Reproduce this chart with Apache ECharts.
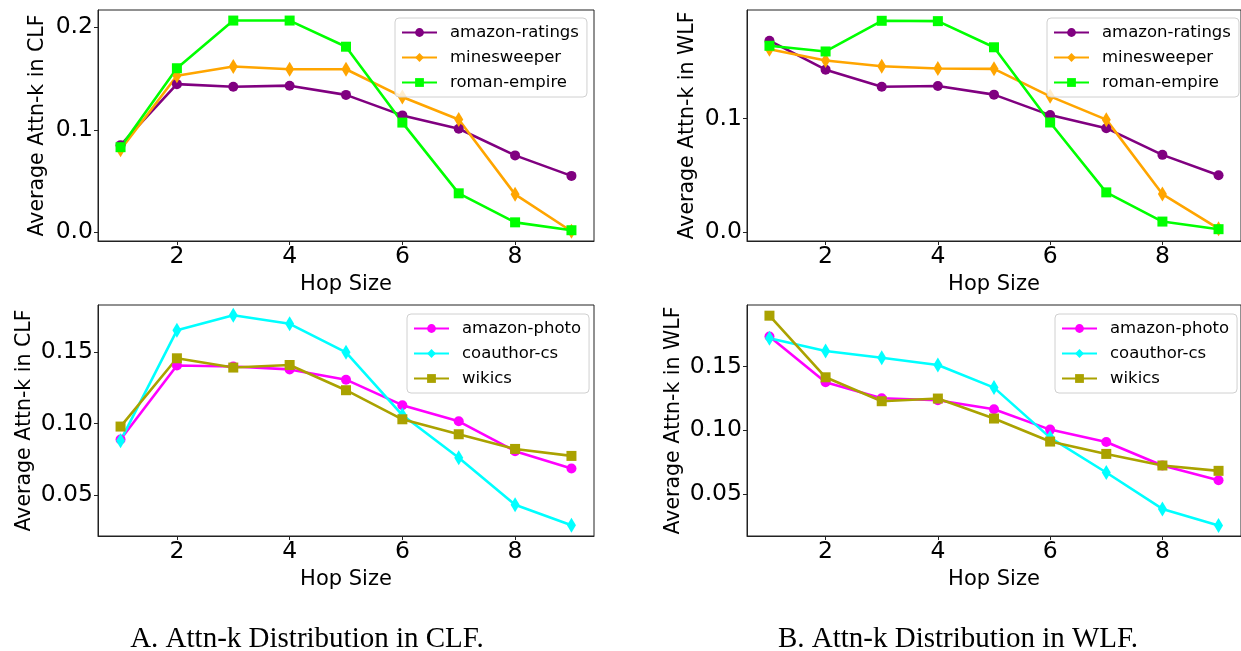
<!DOCTYPE html>
<html>
<head>
<meta charset="utf-8">
<script src="https://cdn.jsdelivr.net/npm/echarts@6/dist/echarts.min.js"></script>
<style>
html,body{margin:0;padding:0;background:#fff;}
#c{width:1241px;height:651px;}
</style>
</head>
<body>
<div id="c"></div>
<script>
const hops = [1, 2, 3, 4, 5, 6, 7, 8, 9];
const xTicks = [2, 4, 6, 8];

// Top row datasets
const clf_amazonRatings = [0.085, 0.1445, 0.142, 0.143, 0.134, 0.114, 0.101, 0.075, 0.055];
const clf_minesweeper   = [0.0805, 0.1526, 0.1617, 0.159, 0.159, 0.132, 0.110, 0.037, 0.001];
const clf_romanEmpire   = [0.083, 0.160, 0.2065, 0.2065, 0.181, 0.107, 0.038, 0.0097, 0.002];

const wlf_amazonRatings = [0.1685, 0.143, 0.128, 0.1286, 0.121, 0.103, 0.0915, 0.068, 0.050];
const wlf_minesweeper   = [0.161, 0.151, 0.146, 0.144, 0.1437, 0.1195, 0.099, 0.0335, 0.003];
const wlf_romanEmpire   = [0.164, 0.159, 0.186, 0.1857, 0.1627, 0.0965, 0.035, 0.0093, 0.0026];

// Bottom row datasets
const clf_amazonPhoto = [0.0888, 0.1407, 0.140, 0.138, 0.1308, 0.1129, 0.1016, 0.0806, 0.0685];
const clf_coauthorCs  = [0.088, 0.1654, 0.176, 0.170, 0.150, 0.106, 0.076, 0.043, 0.0287];
const clf_wikics      = [0.0979, 0.1458, 0.1393, 0.1411, 0.1234, 0.103, 0.0925, 0.0822, 0.0773];

const wlf_amazonPhoto = [0.1736, 0.1377, 0.1251, 0.1236, 0.1165, 0.1005, 0.0908, 0.0723, 0.0607];
const wlf_coauthorCs  = [0.1723, 0.1623, 0.157, 0.1513, 0.1335, 0.0942, 0.0668, 0.0382, 0.0251];
const wlf_wikics      = [0.190, 0.1416, 0.1228, 0.1249, 0.1092, 0.0911, 0.0814, 0.0723, 0.0681];

const yTicksTopL = [0, 0.1, 0.2];
const yTicksTopR = [0, 0.1];
const yTicksBot  = [0.05, 0.10, 0.15];

const captions = ['A. Attn-k Distribution in CLF.', 'B. Attn-k Distribution in WLF.'];

const FONT = 'DejaVu Sans';
const grids = [
  {left: 98, top: 10, width: 496, height: 231},
  {left: 747, top: 10, width: 497, height: 231},
  {left: 98, top: 305, width: 496, height: 231},
  {left: 747, top: 305, width: 497, height: 231}
];
const yRanges = [[-0.0085, 0.2168], [-0.0078, 0.1955], [0.0211, 0.1832], [0.0169, 0.1984]];
const yTicks = [yTicksTopL, yTicksTopR, yTicksBot, yTicksBot];
const yNames = ['Average Attn-k in CLF', 'Average Attn-k in WLF', 'Average Attn-k in CLF', 'Average Attn-k in WLF'];
const yDigits = [1, 1, 2, 2];
const yGaps = [50, 49, 63, 63];

const seriesDefs = [
  [['amazon-ratings', clf_amazonRatings, '#800080', 'circle'], ['minesweeper', clf_minesweeper, '#FFA500', 'diamond'], ['roman-empire', clf_romanEmpire, '#00FF00', 'rect']],
  [['amazon-ratings', wlf_amazonRatings, '#800080', 'circle'], ['minesweeper', wlf_minesweeper, '#FFA500', 'diamond'], ['roman-empire', wlf_romanEmpire, '#00FF00', 'rect']],
  [['amazon-photo', clf_amazonPhoto, '#FF00FF', 'circle'], ['coauthor-cs', clf_coauthorCs, '#00FFFF', 'diamond'], ['wikics', clf_wikics, '#AAA200', 'rect']],
  [['amazon-photo', wlf_amazonPhoto, '#FF00FF', 'circle'], ['coauthor-cs', wlf_coauthorCs, '#00FFFF', 'diamond'], ['wikics', wlf_wikics, '#AAA200', 'rect']]
];
const legendPos = [
  {left: 395, top: 18}, {left: 1047, top: 18}, {left: 407, top: 314}, {left: 1055, top: 314}
];

const option = {
  animation: false,
  backgroundColor: '#fff',
  title: [
    {text: captions[0], left: 302, top: 620, textAlign: 'center', textStyle: {fontFamily: 'Liberation Serif', fontWeight: 'normal', fontSize: 29, color: '#000'}},
    {text: captions[1], left: 953, top: 620, textAlign: 'center', textStyle: {fontFamily: 'Liberation Serif', fontWeight: 'normal', fontSize: 29, color: '#000'}}
  ],
  grid: grids.map(g => Object.assign({show: true, borderColor: '#222', borderWidth: 1, backgroundColor: 'transparent'}, g)),
  xAxis: grids.map((g, i) => ({
    type: 'value', gridIndex: i, min: 0.6, max: 9.4,
    name: 'Hop Size', nameLocation: 'middle', nameGap: 33,
    nameTextStyle: {fontFamily: FONT, fontSize: 21, color: '#000'},
    axisLine: {show: true, onZero: false, lineStyle: {color: '#222', width: 1}},
    axisTick: {show: true, inside: false, length: 4, customValues: xTicks, lineStyle: {color: '#222'}},
    axisLabel: {show: true, customValues: xTicks, fontFamily: FONT, fontSize: 23.5, color: '#000', margin: 4},
    splitLine: {show: false}
  })),
  yAxis: grids.map((g, i) => ({
    type: 'value', gridIndex: i, min: yRanges[i][0], max: yRanges[i][1],
    name: yNames[i], nameLocation: 'middle', nameGap: yGaps[i],
    nameTextStyle: {fontFamily: FONT, fontSize: 20.5, color: '#000'},
    axisLine: {show: true, onZero: false, lineStyle: {color: '#222', width: 1}},
    axisTick: {show: true, inside: false, length: 4, customValues: yTicks[i], lineStyle: {color: '#222'}},
    axisLabel: {show: true, customValues: yTicks[i], fontFamily: FONT, fontSize: 23.5, color: '#000', margin: 5,
      formatter: v => Number(v).toFixed(yDigits[i])},
    splitLine: {show: false}
  })),
  legend: seriesDefs.map((defs, i) => ({
    left: legendPos[i].left, top: legendPos[i].top,
    orient: 'vertical',
    data: defs.map(d => d[0]),
    itemWidth: 35, itemHeight: 11, itemGap: 8,
    padding: [6, 8, 6, 6],
    backgroundColor: 'rgba(255,255,255,0.8)',
    borderColor: '#d0d0d0', borderWidth: 1, borderRadius: 4,
    textStyle: {fontFamily: FONT, fontSize: 16.5, color: '#000', padding: [0, 0, 0, 8]}
  })),
  series: []
};

seriesDefs.forEach((defs, gi) => {
  defs.forEach(d => {
    const [name, vals, color, sym] = d;
    option.series.push({
      name: name, type: 'line', xAxisIndex: gi, yAxisIndex: gi,
      data: hops.map((h, k) => [h, vals[k]]),
      symbol: sym,
      symbolSize: sym === 'diamond' ? [9, 15] : 10,
      showAllSymbol: true,
      lineStyle: {color: color, width: 2.6},
      itemStyle: {color: color, borderWidth: 0},
      emphasis: {disabled: true}
    });
  });
});

const chart = echarts.init(document.getElementById('c'), null, {renderer: 'canvas'});
chart.setOption(option);
</script>
</body>
</html>
